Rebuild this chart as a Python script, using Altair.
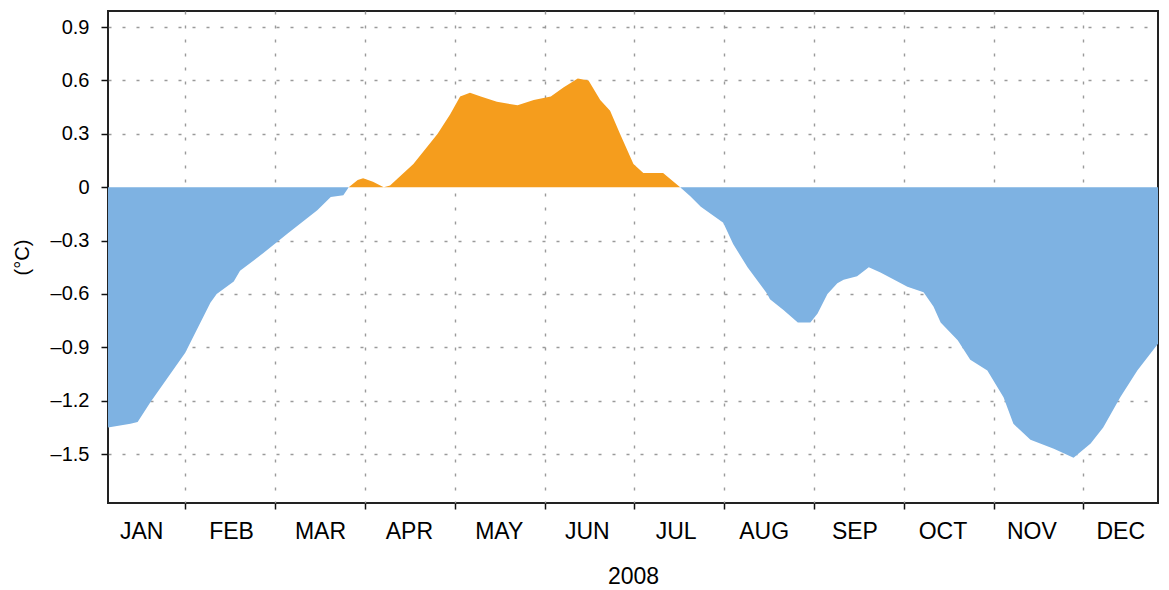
import altair as alt
import pandas as pd

# month position (1.0 = 1 Feb, evenly spaced months) and anomaly (°C)
t = [0.14, 0.39, 0.47, 0.61, 1.00, 1.28, 1.35, 1.54, 1.61, 1.87, 2.14, 2.47, 2.62, 2.76, 2.82,
     2.92, 2.98, 3.09, 3.21, 3.28, 3.54, 3.81, 3.95, 4.06, 4.17, 4.29, 4.47, 4.70, 4.88, 5.07,
     5.21, 5.37, 5.49, 5.62, 5.73, 5.84, 5.99, 6.10, 6.32, 6.51, 6.62, 6.74, 6.99, 7.10, 7.26,
     7.48, 7.51, 7.66, 7.82, 7.96, 8.04, 8.15, 8.26, 8.33, 8.48, 8.61, 8.74, 8.93, 9.04, 9.22,
     9.33, 9.41, 9.60, 9.74, 9.93, 10.11, 10.22, 10.41, 10.67, 10.89, 11.08, 11.22, 11.41,
     11.60, 11.83]
v = [-1.35, -1.33, -1.32, -1.21, -0.93, -0.65, -0.60, -0.53, -0.47, -0.37, -0.26, -0.13, -0.056,
     -0.045, 0.0, 0.04, 0.05, 0.03, 0.0, 0.01, 0.13, 0.30, 0.41, 0.51, 0.53, 0.51, 0.48, 0.46,
     0.49, 0.51, 0.56, 0.61, 0.60, 0.49, 0.43, 0.30, 0.13, 0.08, 0.08, 0.0, -0.05, -0.11, -0.20,
     -0.32, -0.45, -0.60, -0.63, -0.69, -0.76, -0.76, -0.71, -0.60, -0.54, -0.52, -0.50, -0.45,
     -0.48, -0.53, -0.56, -0.59, -0.67, -0.76, -0.86, -0.97, -1.03, -1.18, -1.33, -1.42, -1.47,
     -1.52, -1.44, -1.35, -1.18, -1.03, -0.88]

months = ["JAN", "FEB", "MAR", "APR", "MAY", "JUN", "JUL", "AUG", "SEP", "OCT", "NOV", "DEC"]
label_pos = [0.51, 1.51, 2.50, 3.49, 4.49, 5.47, 6.46, 7.44, 8.45, 9.43, 10.42, 11.41]
month_starts = [1, 2, 3, 4, 5, 6, 7, 8, 9, 10, 11]
y_ticks = [0.9, 0.6, 0.3, 0, -0.3, -0.6, -0.9, -1.2, -1.5]

df = pd.DataFrame({"t": t, "v": v})

FONT = "Liberation Sans"
xscale = alt.Scale(domain=[0.14, 11.83], nice=False, zero=False)
yscale = alt.Scale(domain=[-1.775, 0.99], nice=False, zero=False)

month_js = "[" + ",".join("'%s'" % m for m in months) + "]"

yaxis = alt.Axis(
    values=y_ticks,
    labelExpr="datum.value == 0 ? '0' : replace(format(datum.value, '.1f'), /[-\u2212]/, '\u2013')",
    labelFontSize=20, labelColor="#000", labelPadding=12, labelFont=FONT,
    tickSize=7, tickWidth=1.5, tickColor="#111",
    grid=True, gridDash=[3, 11], gridColor="#9a9a9a", gridWidth=1.4,
    gridOpacity={"condition": {"test": "datum.value === 0", "value": 0}, "value": 1},
    domain=False, title="(°C)", titleFontSize=20, titleFontWeight="normal",
    titleFont=FONT, titleColor="#000", titlePadding=18,
)

base = alt.Chart(df).transform_calculate(
    pos="max(datum.v, 0)", neg="min(datum.v, 0)"
)

neg = base.mark_area(color="#7EB2E2").encode(
    x=alt.X("t:Q", scale=xscale, axis=alt.Axis(
        values=month_starts, labels=False, ticks=True, tickSize=6, tickWidth=1.5,
        tickColor="#111", grid=True, gridDash=[3, 11], gridColor="#9a9a9a", gridWidth=1.4,
        domain=False, title=None, orient="bottom")),
    y=alt.Y("neg:Q", scale=yscale, axis=yaxis),
    y2=alt.datum(0),
)

pos = base.mark_area(color="#F59D1D").encode(
    x=alt.X("t:Q", scale=xscale, axis=alt.Axis(
        values=label_pos, labelExpr=month_js + "[floor(datum.value)]",
        ticks=False, tickSize=0, grid=False, domain=False, orient="bottom",
        labelFontSize=23, labelColor="#000", labelPadding=17, labelFont=FONT,
        title="2008", titleFontSize=23, titleFontWeight="normal", titleFont=FONT,
        titleColor="#000", titlePadding=22)),
    y=alt.Y("pos:Q", scale=yscale, axis=yaxis),
    y2=alt.datum(0),
)

chart = alt.layer(neg, pos).resolve_axis(x="independent").properties(
    width=1050, height=492,
    autosize=alt.AutoSizeParams(type="none"),
    padding={"left": 100, "top": 3, "right": 3, "bottom": 88},
).configure(
    font=FONT, background="white",
    view=alt.ViewConfig(stroke="#222", strokeWidth=2),
)

chart.save("out.html", embed_options={"renderer": "svg", "actions": False})
